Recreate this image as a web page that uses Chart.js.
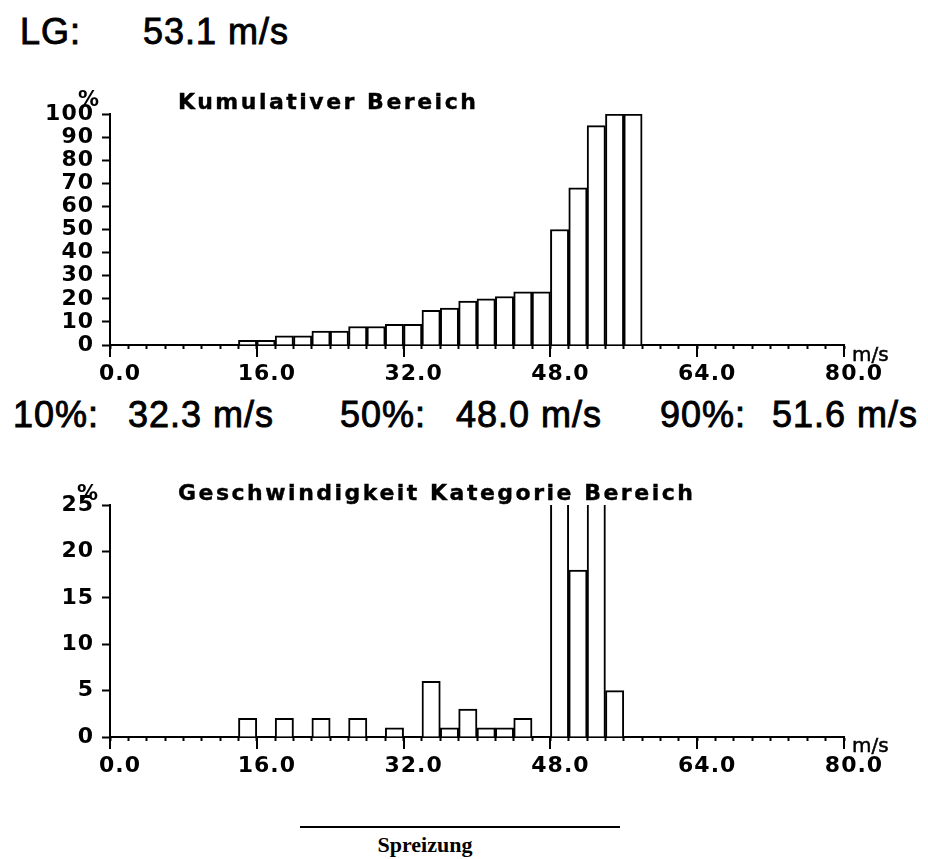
<!DOCTYPE html>
<html>
<head>
<meta charset="utf-8">
<script src="https://cdn.jsdelivr.net/npm/chart.js@4.4.1/dist/chart.umd.min.js"></script>
<style>
    body { margin: 0; background: #fff; }
    #page { position: relative; width: 928px; height: 859px; overflow: hidden; }
    #page canvas { position: absolute; left: 0; }
    .big { position: absolute; font-family: "Liberation Sans", Arial, sans-serif; font-size: 36px; line-height: 1; letter-spacing: 1px; color: #000; white-space: nowrap; -webkit-text-stroke: 0.9px #000; }
    .title { position: absolute; font-family: "DejaVu Sans", sans-serif; font-weight: bold; font-size: 22px; line-height: 1; letter-spacing: 2.5px; color: #000; white-space: nowrap; -webkit-text-stroke: 0.4px #000; }
    .pct { position: absolute; font-family: "DejaVu Sans", sans-serif; font-weight: bold; font-size: 21px; line-height: 1; color: #000; }
    .unit { position: absolute; font-family: "DejaVu Sans", sans-serif; font-size: 20px; line-height: 1; color: #000; -webkit-text-stroke: 0.5px #000; }
</style>
</head>
<body>
<div id="page">
    <div class="big" style="left:20px; top:14px;">LG:</div>
    <div class="big" style="left:143px; top:14px;">53.1 m/s</div>

    <canvas id="kumChart" width="928" height="290" style="top:90px;"></canvas>
    <div class="pct" style="left:78px; top:89px;">%</div>
    <div class="title" style="left:178px; top:91px;">Kumulativer Bereich</div>
    <div class="unit" style="left:852px; top:344px;">m/s</div>

    <div class="big" style="left:13px; top:397px;">10%:</div>
    <div class="big" style="left:128px; top:397px;">32.3 m/s</div>
    <div class="big" style="left:340px; top:397px;">50%:</div>
    <div class="big" style="left:456px; top:397px;">48.0 m/s</div>
    <div class="big" style="left:660px; top:397px;">90%:</div>
    <div class="big" style="left:772px; top:397px;">51.6 m/s</div>

    <canvas id="katChart" width="928" height="300" style="top:480px;"></canvas>
    <div class="pct" style="left:77px; top:483px;">%</div>
    <div class="title" style="left:178px; top:482px;">Geschwindigkeit Kategorie Bereich</div>
    <div class="unit" style="left:852px; top:735px;">m/s</div>

    <div style="position:absolute; left:300px; top:826px; width:320px; height:2px; background:#000;"></div>
    <div style="position:absolute; left:300px; width:250px; top:834px; text-align:center; font-family:'Liberation Serif','Times New Roman',serif; font-weight:bold; font-size:22px; line-height:1;">Spreizung</div>
</div>

<script>
// Speed classes, 2 m/s wide, given by their lower edge (m/s)
const binStarts = [14, 16, 18, 20, 22, 24, 26, 28, 30, 32, 34, 36, 38, 40, 42, 44, 46, 48, 50, 52, 54, 56];
// Kumulativer Bereich (%)
const kumulativ = [2, 2, 4, 4, 6, 6, 8, 8, 9, 9, 15, 16, 19, 20, 21, 23, 23, 50, 68, 95, 100, 100];
// Geschwindigkeit Kategorie Bereich (%), two classes run past the 25 % top
const kategorie = [2, 0, 2, 0, 2, 0, 2, 0, 1, 0, 6, 1, 3, 1, 1, 2, 0, 27, 18, 28, 5, 0];
// Labelled x ticks (m/s)
const xLabelTicks = [0, 16, 32, 48, 64, 80];

const binWidth = 2;

// Long ticks under the labelled speeds, plus a little tick label spacing
const axisMarks = {
    id: 'axisMarks',
    beforeDraw(chart) {
        chart.ctx.letterSpacing = '1px';
    },
    afterDraw(chart) {
        const ctx = chart.ctx;
        const xScale = chart.scales.x;
        const bottom = chart.chartArea.bottom;
        ctx.save();
        ctx.strokeStyle = '#000';
        ctx.lineWidth = 2;
        xLabelTicks.forEach(v => {
            const px = Math.round(xScale.getPixelForValue(v));
            ctx.beginPath();
            ctx.moveTo(px, bottom);
            ctx.lineTo(px, bottom + 12);
            ctx.stroke();
        });
        ctx.restore();
    }
};

function drawHistogram(canvasId, values, yMax, yStep, padTop, xHeight) {
    const ctx = document.getElementById(canvasId).getContext('2d');
    const points = binStarts.map((s, i) => ({ x: s + binWidth / 2, y: values[i] }));

    new Chart(ctx, {
        type: 'bar',
        data: {
            datasets: [{
                data: points,
                backgroundColor: '#fff',
                borderColor: '#000',
                borderWidth: 2,
                barPercentage: 1,
                categoryPercentage: 1,
                clip: 0
            }]
        },
        options: {
            responsive: false,
            animation: false,
            devicePixelRatio: 1,
            layout: { padding: { top: padTop, right: 84, left: 0, bottom: 0 } },
            plugins: {
                legend: { display: false },
                tooltip: { enabled: false }
            },
            scales: {
                x: {
                    type: 'linear',
                    min: 0,
                    max: 80,
                    offset: false,
                    grid: {
                        offset: false,
                        drawOnChartArea: false,
                        drawTicks: true,
                        tickLength: 4,
                        tickColor: '#000',
                        tickWidth: 2
                    },
                    border: { display: true, color: '#000', width: 2 },
                    ticks: {
                        stepSize: binWidth,
                        autoSkip: false,
                        maxRotation: 0,
                        padding: 12,
                        labelOffset: 10,
                        color: '#000',
                        font: { family: 'DejaVu Sans', weight: 'bold', size: 22 },
                        callback: value => xLabelTicks.includes(value) ? value.toFixed(1) : ''
                    },
                    afterFit: scale => { scale.height = xHeight; }
                },
                y: {
                    min: 0,
                    max: yMax,
                    grid: {
                        drawOnChartArea: false,
                        drawTicks: true,
                        tickLength: 8,
                        tickColor: '#000',
                        tickWidth: 2
                    },
                    border: { display: true, color: '#000', width: 2 },
                    ticks: {
                        stepSize: yStep,
                        autoSkip: false,
                        padding: 8,
                        color: '#000',
                        font: { family: 'DejaVu Sans', weight: 'bold', size: 22 }
                    },
                    afterFit: scale => { scale.width = 110; }
                }
            }
        },
        plugins: [axisMarks]
    });
}

drawHistogram('kumChart', kumulativ, 100, 10, 24, 35);
drawHistogram('katChart', kategorie, 25, 5, 25, 43);
</script>
</body>
</html>
